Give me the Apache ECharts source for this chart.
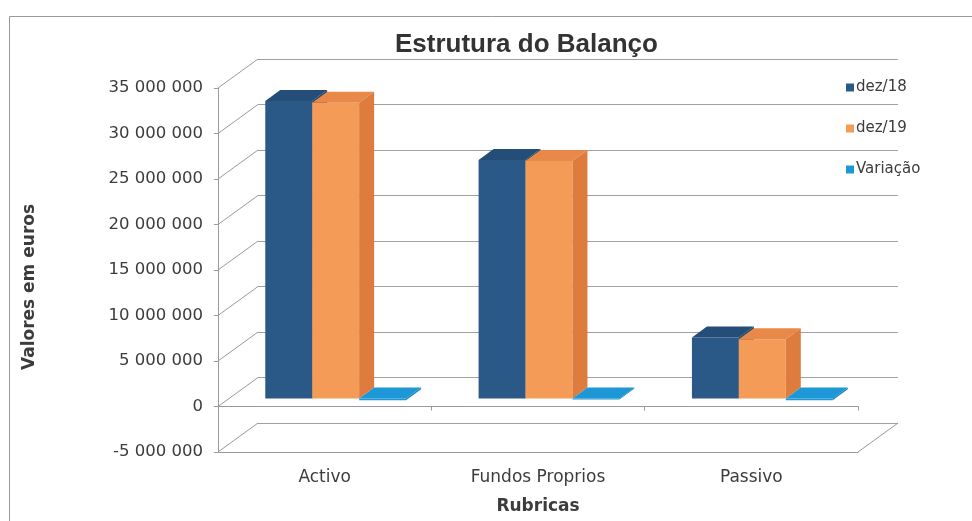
<!DOCTYPE html>
<html>
<head>
<meta charset="utf-8">
<script src="https://cdn.jsdelivr.net/npm/echarts@6/dist/echarts.min.js"></script>
<style>
html, body { margin: 0; padding: 0; background: #fff; }
#chart { width: 972px; height: 521px; }
</style>
</head>
<body>
<div id="chart"></div>
<script>
var categories = ['Activo', 'Fundos Proprios', 'Passivo'];
var seriesNames = ['dez/18', 'dez/19', 'Variação'];
var dez18 = [32700000, 26200000, 6700000];
var dez19 = [32500000, 26100000, 6500000];
var variacao = [-200000, -100000, -200000];
var yTicks = [-5000000, 0, 5000000, 10000000, 15000000, 20000000, 25000000, 30000000, 35000000];

// 3d look: back wall offset, plane of the bars, depth of a bar
var WALL = [40, -29];
var PLANE = [11, -8];
var DEPTH = [15, -11];

var faces = [
    {front: '#2b5987', top: '#244d77', side: '#1f456c'},
    {front: '#f49b57', top: '#e8894a', side: '#de7c3e'},
    {front: '#1e97d6', top: '#1e97d6', side: '#1a86c0'}
];

function fmt(v) {
    var s = String(Math.abs(v)).replace(/\B(?=(\d{3})+(?!\d))/g, ' ');
    return (v < 0 ? '-' : '') + s;
}

function barRenderer(s) {
    var f = faces[s];
    return function (params, api) {
        var cat = api.value(0), val = api.value(1);
        var band = api.size([1, 0])[0];
        var base = api.coord([cat, 0]);
        var end = api.coord([cat, val]);
        var w = band * 0.22;
        var x0 = base[0] - band * 0.33 + s * w + PLANE[0];
        var y0 = base[1] + PLANE[1];
        var yv = end[1] + PLANE[1];
        var yt = Math.min(y0, yv), yb = Math.max(y0, yv);
        var dx = DEPTH[0], dy = DEPTH[1];
        return {
            type: 'group',
            children: [
                {type: 'rect', shape: {x: x0, y: yt, width: w, height: yb - yt}, style: {fill: f.front}},
                {type: 'polygon', shape: {points: [[x0, yt], [x0 + dx, yt + dy], [x0 + w + dx, yt + dy], [x0 + w, yt]]}, style: {fill: f.top}},
                {type: 'polygon', shape: {points: [[x0 + w, yt], [x0 + w + dx, yt + dy], [x0 + w + dx, yb + dy], [x0 + w, yb]]}, style: {fill: f.side}}
            ]
        };
    };
}

function wallRenderer(params, api) {
    var cs = params.coordSys;
    var v = api.value(1);
    var y = api.coord([0, v])[1];
    var kids = [{
        type: 'line',
        shape: {x1: cs.x, y1: y, x2: cs.x + WALL[0], y2: y + WALL[1]},
        style: {stroke: '#9a9a9a', lineWidth: 1}
    }];
    if (v === yTicks[0]) {
        var r = cs.x + cs.width;
        kids.push({
            type: 'line',
            shape: {x1: r, y1: y, x2: r + WALL[0], y2: y + WALL[1]},
            style: {stroke: '#9a9a9a', lineWidth: 1}
        });
    }
    return {type: 'group', children: kids};
}

var font = 'DejaVu Sans';
var textColor = '#3c3c3c';

var chart = echarts.init(document.getElementById('chart'));
chart.setOption({
    animation: false,
    backgroundColor: '#fff',
    title: {
        text: 'Estrutura do Balanço',
        left: 390,
        top: 27,
        textStyle: {fontFamily: 'Liberation Sans', fontWeight: 'bold', fontSize: 26, color: '#333'}
    },
    graphic: [{
        type: 'rect',
        left: 7, top: 14,
        shape: {width: 1000, height: 600},
        style: {fill: null, stroke: '#9a9a9a', lineWidth: 1},
        silent: true
    }, {
        type: 'text',
        x: 30,
        y: 287,
        rotation: Math.PI / 2,
        style: {
            text: 'Valores em euros',
            align: 'center',
            verticalAlign: 'middle',
            fontFamily: font,
            fontWeight: 'bold',
            fontSize: 17,
            fill: textColor
        }
    }],
    legend: {
        orient: 'vertical',
        left: 841,
        top: 75,
        itemWidth: 8,
        itemHeight: 8,
        itemGap: 26,
        icon: 'rect',
        data: seriesNames,
        textStyle: {fontFamily: font, fontSize: 15, color: textColor, padding: [0, 0, 0, -3]}
    },
    grid: [
        {left: 218, right: 114, top: 88, bottom: 69},
        {left: 258, right: 74, top: 59, bottom: 98}
    ],
    xAxis: [{
        type: 'category',
        gridIndex: 0,
        data: categories,
        position: 'bottom',
        name: 'Rubricas',
        nameLocation: 'middle',
        nameGap: 46,
        nameTextStyle: {fontFamily: font, fontWeight: 'bold', fontSize: 17, color: textColor},
        axisLine: {onZero: false, lineStyle: {color: '#9a9a9a'}},
        axisTick: {show: false},
        axisLabel: {fontFamily: font, fontSize: 17, color: textColor, margin: 17}
    }, {
        type: 'category',
        gridIndex: 0,
        data: categories,
        position: 'bottom',
        axisLine: {onZero: true, onZeroAxisIndex: 0, lineStyle: {color: '#9a9a9a'}},
        axisTick: {show: true, length: 4, lineStyle: {color: '#9a9a9a'}},
        axisLabel: {show: false}
    }, {
        type: 'category',
        gridIndex: 1,
        data: categories,
        show: false
    }],
    yAxis: [{
        type: 'value',
        gridIndex: 0,
        min: yTicks[0],
        max: yTicks[yTicks.length - 1],
        interval: 5000000,
        axisLine: {show: true, lineStyle: {color: '#9a9a9a'}},
        axisTick: {show: true, length: 4, lineStyle: {color: '#9a9a9a'}},
        splitLine: {show: false},
        axisLabel: {fontFamily: font, fontSize: 16.5, color: textColor, margin: 15, formatter: fmt}
    }, {
        type: 'value',
        gridIndex: 1,
        min: yTicks[0],
        max: yTicks[yTicks.length - 1],
        interval: 5000000,
        axisLine: {show: false},
        axisTick: {show: false},
        axisLabel: {show: false},
        splitLine: {show: true, lineStyle: {color: '#a0a0a0', width: 1}}
    }],
    series: [{
        type: 'custom',
        name: 'wall',
        xAxisIndex: 0,
        yAxisIndex: 0,
        z: 1,
        silent: true,
        renderItem: wallRenderer,
        data: yTicks.map(function (v) { return [0, v]; })
    }].concat([dez18, dez19, variacao].map(function (vals, s) {
        return {
            type: 'custom',
            name: seriesNames[s],
            xAxisIndex: 0,
            yAxisIndex: 0,
            z: 3,
            itemStyle: {color: faces[s].front},
            renderItem: barRenderer(s),
            encode: {x: 0, y: 1},
            data: vals.map(function (v, i) { return [i, v]; })
        };
    }))
});
</script>
</body>
</html>
